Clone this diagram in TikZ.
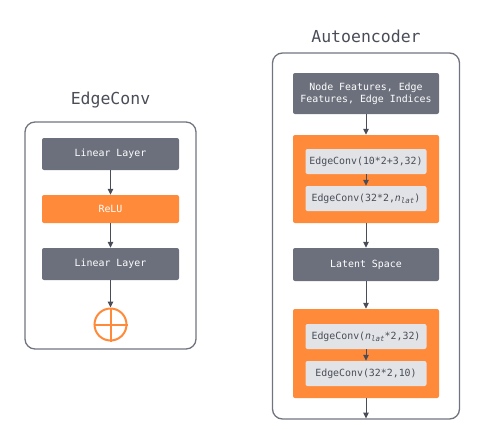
\documentclass[tikz,border=0pt]{standalone}
\usepackage{fontspec}
\setmonofont{DejaVu Sans Mono}
\usetikzlibrary{arrows.meta}
\definecolor{boxgray}{HTML}{6C707C}
\definecolor{orng}{HTML}{FF8A3A}
\definecolor{lightg}{HTML}{E1E3E7}
\definecolor{txtdark}{HTML}{4A4D57}
\definecolor{outerg}{HTML}{71747F}
\newcommand{\nlat}{{\itshape n}\raisebox{-1.8pt}{\fontsize{7.5}{8}\selectfont\itshape lat}}
\tikzset{
  boxfont/.style={font=\ttfamily\fontsize{9.9}{12}\selectfont},
  darkbox/.style={boxfont, fill=boxgray, rounded corners=2pt, text=white, align=center, inner sep=0pt},
  orangebox/.style={boxfont, fill=orng, rounded corners=2pt, text=white, inner sep=0pt},
  lightbox/.style={boxfont, fill=lightg, rounded corners=2pt, text=txtdark, inner sep=0pt},
  outerbox/.style={draw=outerg, line width=1.3pt, rounded corners=10pt, inner sep=0pt},
  titletxt/.style={text=txtdark, font=\ttfamily\fontsize{16.5}{20}\selectfont},
  conn/.style={draw=txtdark, line width=1pt, -{Triangle[width=5.5pt,length=6pt]}},
}
\begin{document}
\begin{tikzpicture}[x=1pt,y=-1pt]
\useasboundingbox (0,0) rectangle (485,445);
% left
\node[titletxt] (t1) at (110.5,100) {EdgeConv};
\node[outerbox, minimum width=171pt, minimum height=227pt] (o1) at (110.5,235.5) {};
\node[darkbox, minimum width=137pt, minimum height=32pt] (l1) at (110.5,154) {Linear Layer};
\node[orangebox, minimum width=137pt, minimum height=28pt] (r1) at (110.5,209) {ReLU};
\node[darkbox, minimum width=137pt, minimum height=32pt] (l2) at (110.5,264) {Linear Layer};
\node[draw=orng, line width=2pt, circle, minimum size=32pt, inner sep=0pt] (p1) at (110.5,324.5) {};
\draw[orng, line width=2pt] (p1.north) -- (p1.south) (p1.west) -- (p1.east);
\draw[conn] (l1) -- (r1);
\draw[conn] (r1) -- (l2);
\draw[conn] (l2) -- (p1);
% right
\node[titletxt] (t2) at (366,36) {Autoencoder};
\node[outerbox, minimum width=187pt, minimum height=366pt] (o2) at (366,236) {};
\node[darkbox, minimum width=146pt, minimum height=41pt] (in) at (366,93.5) {Node Features, Edge\\Features, Edge Indices};
\node[orangebox, minimum width=146pt, minimum height=88pt] (ob1) at (366,179) {};
\node[lightbox, minimum width=121pt, minimum height=25pt] (e1) at (366,161.5) {EdgeConv(10*2+3,32)};
\node[lightbox, minimum width=121pt, minimum height=25pt] (e2) at (366,198.5) {EdgeConv(32*2,\nlat)};
\node[darkbox, minimum width=146pt, minimum height=33pt] (lat) at (366,264.5) {Latent Space};
\node[orangebox, minimum width=146pt, minimum height=89pt] (ob2) at (366,353.5) {};
\node[lightbox, minimum width=121pt, minimum height=25pt] (e3) at (366,336.5) {EdgeConv(\nlat*2,32)};
\node[lightbox, minimum width=121pt, minimum height=25pt] (e4) at (366,373.5) {EdgeConv(32*2,10)};
\coordinate (end) at (366,418.5);
\draw[conn] (in) -- (ob1);
\draw[conn] (e1) -- (e2);
\draw[conn] (ob1) -- (lat);
\draw[conn] (lat) -- (ob2);
\draw[conn] (e3) -- (e4);
\draw[conn] (ob2.south) -- (end);
\end{tikzpicture}
\end{document}
